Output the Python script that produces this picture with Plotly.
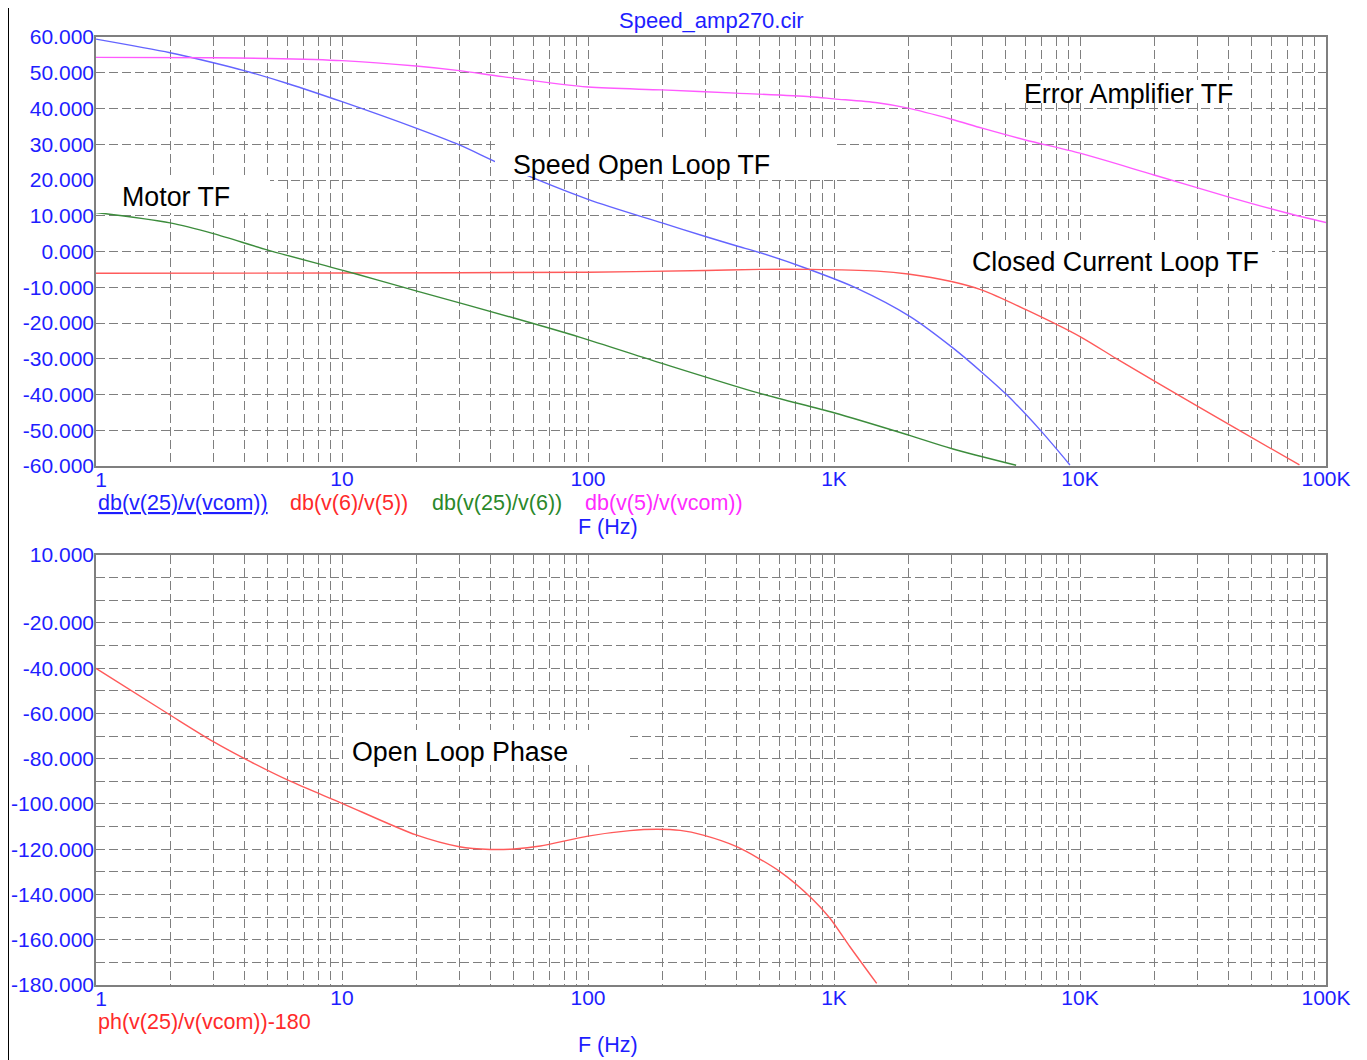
import plotly.graph_objects as go

# ---------------- data ----------------
f_speed = [1, 2, 3, 4, 6, 10, 20, 30, 45, 100, 200, 300, 400, 500, 800, 1240, 2040, 3060, 4040, 5040, 6880, 9100]
db_speed = [59.4, 55.6, 52.8, 50.6, 47.0, 41.9, 34.5, 29.8, 24.2, 14.6, 8.0, 4.2, 1.6, -0.3, -5.1, -10.3, -18.2, -27.1, -34.1, -40.1, -49.9, -59.7]

f_cur = [1, 10, 100, 300, 500, 800, 1500, 2000, 3000, 4000, 6000, 10000, 14000, 20000, 43000, 78000]
db_cur = [-6.1, -6.0, -5.8, -5.3, -5.0, -5.0, -5.5, -6.3, -8.4, -10.8, -16.2, -23.8, -29.9, -36.2, -49.5, -59.7]

f_motor = [1, 2, 3, 5, 10, 14, 20, 50, 93, 200, 500, 1000, 2000, 3000, 5500]
db_motor = [10.9, 8.0, 5.0, 0.4, -5.2, -8.0, -11.0, -18.6, -24.0, -31.3, -39.7, -45.1, -51.3, -55.1, -59.8]

f_err = [1, 3, 5, 10, 20, 30, 45, 100, 200, 400, 800, 1000, 1500, 2000, 3000, 4000, 6000, 10000, 20000, 40000, 70000, 100000]
db_err = [54.3, 54.2, 54.0, 53.4, 51.9, 50.6, 48.9, 46.0, 45.2, 44.3, 43.3, 42.7, 41.6, 40.1, 37.0, 34.5, 31.2, 27.5, 21.4, 15.3, 10.7, 8.1]

f_phase = [1, 2, 3, 4, 6, 10, 20, 30, 40, 50, 64, 100, 148, 190, 237, 294, 402, 603, 824, 963, 1161, 1491]
ph_open = [-40.1, -60.7, -72.5, -79.9, -89.4, -99.7, -113.7, -118.9, -120.1, -119.9, -118.6, -114.2, -111.8, -111.2, -111.7, -113.8, -118.9, -129.9, -142.4, -150.5, -163.1, -179.3]

x_tickvals = [10, 100, 1000, 10000, 100000]
x_ticktext = ["10", "100", "1K", "10K", "100K"]
x_first_tickval = [1]
x_first_ticktext = ["1"]
y1_tickvals = [60, 50, 40, 30, 20, 10, 0, -10, -20, -30, -40, -50, -60]
y1_ticktext = ["60.000", "50.000", "40.000", "30.000", "20.000", "10.000", "0.000",
               "-10.000", "-20.000", "-30.000", "-40.000", "-50.000", "-60.000"]
y2_tickvals = [10, 0, -10, -20, -30, -40, -50, -60, -70, -80, -90, -100, -110, -120,
               -130, -140, -150, -160, -170, -180]
y2_ticktext = ["10.000", "", "", "-20.000", "", "-40.000", "", "-60.000", "", "-80.000", "",
               "-100.000", "", "-120.000", "", "-140.000", "", "-160.000", "", "-180.000"]

# ---------------- layout helpers (page pixel coordinates) ----------------
W, H = 1367, 1060
OFF = 8  # default body margin of the html page
PL, PR, PT, PB = 96, 1326, 37, 985


def px(x):
    return (x - PL) / (PR - PL)


def py(y):
    return (PB - y) / (PB - PT)


FONT = "Liberation Sans, Arial, sans-serif"
GRID = "#7f7f7f"
DASH = "9px,4px"
TICKFONT = dict(family=FONT, size=21, color="#1e1eff")
minor_x = [m * 10 ** d for d in range(5) for m in range(2, 10)]

fig = go.Figure()
lw = 1.4
spl = dict(shape="spline", smoothing=0.8)
fig.add_trace(go.Scatter(x=f_speed, y=db_speed, mode="lines", line=dict(color="#6464ff", width=lw, **spl), xaxis="x", yaxis="y"))
fig.add_trace(go.Scatter(x=f_cur, y=db_cur, mode="lines", line=dict(color="#ff5a5a", width=lw, **spl), xaxis="x", yaxis="y"))
fig.add_trace(go.Scatter(x=f_motor, y=db_motor, mode="lines", line=dict(color="#3c8c3c", width=lw, **spl), xaxis="x", yaxis="y"))
fig.add_trace(go.Scatter(x=f_err, y=db_err, mode="lines", line=dict(color="#ff5aff", width=lw, **spl), xaxis="x", yaxis="y"))
fig.add_trace(go.Scatter(x=f_phase, y=ph_open, mode="lines", line=dict(color="#ff5a5a", width=lw, **spl), xaxis="x2", yaxis="y2"))
# empty traces so the overlay axes carrying the "1" label are drawn
fig.add_trace(go.Scatter(x=[], y=[], mode="lines", xaxis="x3", yaxis="y", hoverinfo="skip"))
fig.add_trace(go.Scatter(x=[], y=[], mode="lines", xaxis="x4", yaxis="y2", hoverinfo="skip"))

xcommon = dict(type="log", range=[0, 5], tickvals=x_tickvals, ticktext=x_ticktext,
               showgrid=True, gridcolor=GRID, griddash=DASH, gridwidth=1.1,
               minor=dict(tickvals=[1] + minor_x, showgrid=True, gridcolor=GRID, griddash=DASH, gridwidth=1.1),
               showline=True, mirror=True, linecolor=GRID, linewidth=1.6,
               ticks="", zeroline=False, ticklabelstandoff=-7, automargin=False,
               tickfont=TICKFONT)
xfirst = dict(type="log", range=[0, 5], tickvals=x_first_tickval, ticktext=x_first_ticktext,
              showgrid=False, showline=False, ticks="", zeroline=False,
              ticklabelstandoff=-1, ticklabelshift=5, automargin=False, side="bottom",
              tickfont=TICKFONT)
ycommon = dict(showgrid=True, gridcolor=GRID, griddash=DASH, gridwidth=1.1,
               showline=True, mirror=True, linecolor=GRID, linewidth=1.6,
               ticks="", zeroline=False, ticklabelstandoff=-4, automargin=False,
               tickfont=TICKFONT)

fig.update_layout(
    width=W, height=H,
    margin=dict(l=PL - OFF, r=W - (PR - OFF), t=PT - OFF, b=H - (PB - OFF)),
    paper_bgcolor="white", plot_bgcolor="white",
    showlegend=False,
    xaxis=dict(**xcommon, anchor="y", domain=[0, 1]),
    xaxis2=dict(**xcommon, anchor="y2", domain=[0, 1]),
    xaxis3=dict(**xfirst, anchor="y", overlaying="x"),
    xaxis4=dict(**xfirst, anchor="y2", overlaying="x2"),
    yaxis=dict(**ycommon, range=[-60, 60], tickvals=y1_tickvals, ticktext=y1_ticktext,
               domain=[py(466), 1]),
    yaxis2=dict(**ycommon, range=[-180, 10], tickvals=y2_tickvals, ticktext=y2_ticktext,
                domain=[0, py(555)]),
)

# white boxes behind the curve labels
boxes = [(96, 175, 270, 213), (495, 140, 835, 176), (985, 80, 1245, 103),
         (953, 240, 1272, 280), (343, 730, 630, 765)]
for x0, y0, x1, y1 in boxes:
    fig.add_shape(type="rect", xref="paper", yref="paper", x0=px(x0), x1=px(x1), y0=py(y1), y1=py(y0),
                  fillcolor="white", line=dict(width=0), layer="above")

# page frame line on the left
fig.add_shape(type="line", xref="paper", yref="paper", x0=px(8), x1=px(8), y0=py(H + 20), y1=py(0),
              line=dict(color="black", width=2), layer="above")

labels = [("Motor TF", 120, 197), ("Speed Open Loop TF", 511, 165), ("Error Amplifier TF", 1022, 94),
          ("Closed Current Loop TF", 970, 262), ("Open Loop Phase", 350, 752)]
for t, x, y in labels:
    fig.add_annotation(text=t, xref="paper", yref="paper", x=px(x), y=py(y), xanchor="left", yanchor="middle",
                       showarrow=False, font=dict(family=FONT, size=26.8, color="black"))

small = [("Speed_amp270.cir", 711, 21, "center", "#1e1eff", 22),
         ("<u>db(v(25)/v(vcom))</u>", 96, 503, "left", "#1e1eff", 21.5),
         ("db(v(6)/v(5))", 288, 503, "left", "#ff2a2a", 21.5),
         ("db(v(25)/v(6))", 430, 503, "left", "#2a882a", 21.5),
         ("db(v(5)/v(vcom))", 583, 503, "left", "#ff2aff", 21.5),
         ("F (Hz)", 608, 527, "center", "#1e1eff", 21.5),
         ("ph(v(25)/v(vcom))-180", 96, 1022, "left", "#ff2a2a", 21.5),
         ("F (Hz)", 608, 1045, "center", "#1e1eff", 21.5)]
for t, x, y, anc, c, s in small:
    fig.add_annotation(text=t, xref="paper", yref="paper", x=px(x), y=py(y), xanchor=anc, yanchor="middle",
                       showarrow=False, font=dict(family=FONT, size=s, color=c))

fig.write_html("out.html")
